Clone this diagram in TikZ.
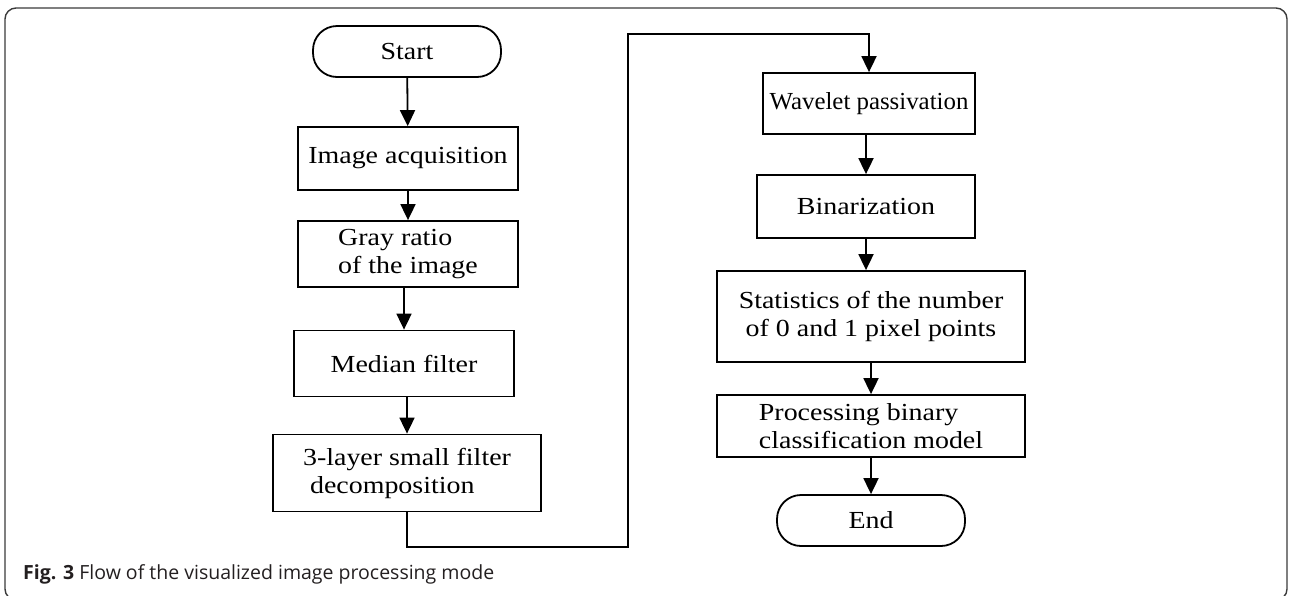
\documentclass[tikz,border=0pt]{standalone}
\usepackage{fontspec}
\usepackage{graphicx}
\usetikzlibrary{arrows.meta}
\newfontfamily\boxfont[FakeStretch=1.14]{Liberation Serif}
\newfontfamily\capfont{Open Sans}
\definecolor{capgray}{HTML}{231F20}
\definecolor{framegray}{HTML}{3A3A3A}
\tikzset{
  box/.style={draw=black, line width=1.8pt, rectangle, inner sep=0pt,
    font=\boxfont\fontsize{24.5}{28}\selectfont},
  term/.style={box, rounded corners=24pt},
  arr/.style={draw=black, line width=1.8pt, -{Triangle[length=16pt,width=15pt]}},
  line/.style={draw=black, line width=1.8pt}
}
\begin{document}
\begin{tikzpicture}[x=1pt,y=-1pt]
\useasboundingbox (0,0) rectangle (1292,595);
\clip (0,0) rectangle (1292,595);
\draw[framegray, line width=1.4pt, rounded corners=11pt] (5,8) rectangle (1287,600);

% left column
\node[term, minimum width=188pt, minimum height=51pt] (start) at (407,51.5) {Start};
\node[box, minimum width=220pt, minimum height=63pt] (img) at (408,158.5) {\raisebox{3pt}{Image acquisition}};
\node[box, minimum width=220pt, minimum height=66pt, align=left] (gray) at (408,254) {Gray ratio\\of the image};
\node[box, minimum width=220pt, minimum height=66pt] (median) at (404,363.5) {Median filter};
\node[box, minimum width=268pt, minimum height=77pt, align=left] (layer) at (407,473) {3-layer small filter\\\ decomposition};

% right column
\node[box, minimum width=212pt, minimum height=61pt] (wave) at (869,103.5) {\scalebox{0.89}[1]{Wavelet passivation}};
\node[box, minimum width=218pt, minimum height=63pt] (bin) at (866,206.5) {Binarization};
\node[box, minimum width=308pt, minimum height=91pt, align=center] (stat) at (871,316.5) {Statistics of the number\\of 0 and 1 pixel points};
\node[box, minimum width=308pt, minimum height=62pt, align=left] (proc) at (871,426) {Processing binary\\classification model};
\node[term, minimum width=188pt, minimum height=51pt] (end) at (871,520.5) {End};

% connectors
\draw[arr] (start) -- (img);
\draw[arr] (img) -- (gray);
\draw[arr] (gray.south -| median.north) -- (median.north);
\draw[arr] (median.south -| layer.north) -- (layer.north);
\coordinate (b1) at (628,547);
\coordinate (t1) at (628,34);
\draw[arr] (layer.south) |- (b1) -- (t1) -| (wave.north);
\draw[arr] (wave.south -| bin.north) -- (bin.north);
\draw[arr] (bin.south) -- (bin.south |- stat.north);
\draw[arr] (stat) -- (proc);
\draw[arr] (proc) -- (end);

% caption
\node[anchor=base west, inner sep=0pt, text=capgray, font=\capfont\fontsize{19.5}{23}\selectfont] (cap) at (23,579) {\textbf{Fig. 3} Flow of the visualized image processing mode};
\end{tikzpicture}
\end{document}
